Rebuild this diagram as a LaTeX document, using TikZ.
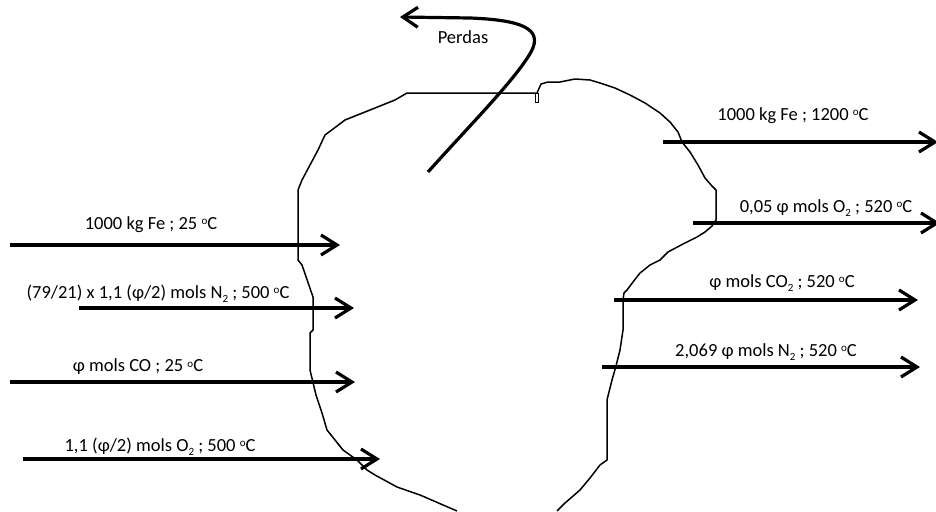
\documentclass[tikz,border=0pt]{standalone}
\usepackage{fontspec}
\setmainfont{Carlito}
\usetikzlibrary{arrows.meta}
\tikzset{
  flow/.style={line width=3.2pt, -{Straight Barb[length=16pt,width=20pt,line width=3.2pt]}},
  lbl/.style={font=\fontsize{18.5}{22}\selectfont, inner sep=0pt},
  outline/.style={line width=1.5pt, line join=round}
}
\newcommand{\dg}{\raisebox{0.55ex}{\fontsize{11}{11}\selectfont o}C}
\newcommand{\sbt}[1]{\raisebox{-0.45ex}{\fontsize{11}{11}\selectfont #1}}
\begin{document}
\begin{tikzpicture}[x=1pt,y=-1pt]
\useasboundingbox (0,0) rectangle (936,511);
% boundary
\draw[outline] (407,93) -- (537,93) -- (541,84) -- (548,82) -- (560,82) -- (575,79) -- (590,80) -- (600,83) -- (615,88) -- (630,95) -- (645,103) -- (660,113) -- (670,122) -- (678,132) -- (682,142) -- (690,152) -- (698,165) -- (705,178) -- (712,186) -- (716,190) -- (716,220) -- (712,226) -- (705,232) -- (697,237) -- (683,244) -- (668,252) -- (660,260) -- (650,265) -- (640,273) -- (633,282) -- (627,290) -- (624,293) -- (623,300) -- (623,330) -- (620,350) -- (616,366) -- (612,380) -- (607,400) -- (607,460) -- (600,465) -- (590,478) -- (580,490) -- (565,503) -- (557,511);
\draw[outline] (457,511) -- (420,495) -- (397,487) -- (375,475) -- (367,470) -- (357,460) -- (343,450) -- (327,430) -- (322,413) -- (316,395) -- (310,370) -- (310,333) -- (313,330) -- (313,297) -- (302,265) -- (298,260) -- (298,190) -- (302,180) -- (310,165) -- (318,150) -- (325,135) -- (345,120) -- (370,110) -- (395,100) -- (407,93);
\draw[line width=1pt] (535,93) rectangle (538,102);
% losses
\coordinate (ls) at (428,172);
\coordinate (le) at (400,17);
\draw[line width=3.2pt, -{Straight Barb[length=15pt,width=20pt,line width=3.2pt]}]
  (ls) .. controls (470,125) and (515,80) .. (531,52)
  .. controls (544,28) and (520,20) .. (470,18) -- (le);
\node[lbl] (perdas) at (463,37) {Perdas};
% inputs
\coordinate (a1s) at (10,245);  \coordinate (a1e) at (340,245);
\coordinate (a2s) at (79,308);  \coordinate (a2e) at (354,308);
\coordinate (a3s) at (10,382);  \coordinate (a3e) at (355,382);
\coordinate (a4s) at (23,459);  \coordinate (a4e) at (380,459);
\draw[flow] (a1s) -- (a1e);
\draw[flow] (a2s) -- (a2e);
\draw[flow] (a3s) -- (a3e);
\draw[flow] (a4s) -- (a4e);
\node[lbl] (t1) at (151,225) {1000 kg Fe ; 25 \dg};
\node[lbl] (t2) at (158,294) {(79/21) x 1,1 (φ/2) mols N\sbt{2} ; 500 \dg};
\node[lbl] (t3) at (138,367) {φ mols CO ; 25 \dg};
\node[lbl] (t4) at (160,447) {1,1 (φ/2) mols O\sbt{2} ; 500 \dg};
% outputs
\coordinate (b1s) at (663,142); \coordinate (b1e) at (938,142);
\coordinate (b2s) at (693,223); \coordinate (b2e) at (940,223);
\coordinate (b3s) at (614,300); \coordinate (b3e) at (918,300);
\coordinate (b4s) at (602,367); \coordinate (b4e) at (920,367);
\draw[flow] (b1s) -- (b1e);
\draw[flow] (b2s) -- (b2e);
\draw[flow] (b3s) -- (b3e);
\draw[flow] (b4s) -- (b4e);
\node[lbl] (u1) at (793,116) {1000 kg Fe ; 1200 \dg};
\node[lbl] (u2) at (826,208) {0,05 φ mols O\sbt{2} ; 520 \dg};
\node[lbl] (u3) at (782,283) {φ mols CO\sbt{2} ; 520 \dg};
\node[lbl] (u4) at (766,352) {2,069 φ mols N\sbt{2} ; 520 \dg};
\end{tikzpicture}
\end{document}
